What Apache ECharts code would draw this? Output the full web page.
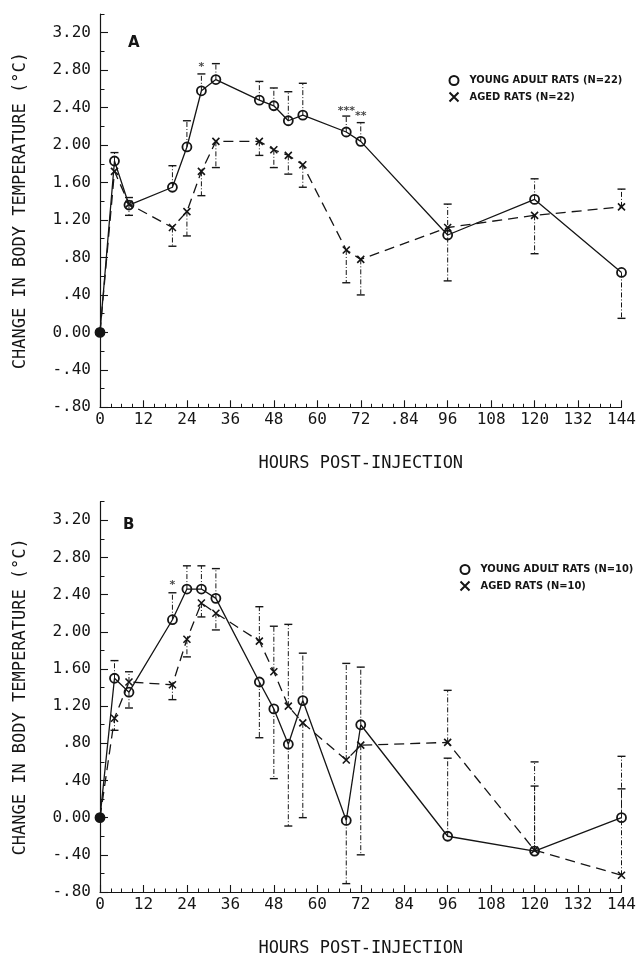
<!DOCTYPE html>
<html><head><meta charset="utf-8">
<script src="https://cdn.jsdelivr.net/npm/echarts@6/dist/echarts.min.js"></script>
<style>html,body{margin:0;padding:0;background:#fff}#c{width:639px;height:958px}</style>
</head><body><div id="c"></div>
<script>
// ---- data ----
const hours = [0,4,8,20,24,28,32,44,48,52,56,68,72,96,120,144];

const youngA    = [0,1.83,1.36,1.55,1.98,2.58,2.70,2.48,2.42,2.26,2.32,2.14,2.04,1.04,1.42,0.64];
const youngErrA = [null,1.92,1.44,1.78,2.26,2.76,2.87,2.68,2.61,2.57,2.66,2.31,2.24,1.37,1.64,0.15];
const agedA     = [0,1.72,1.37,1.12,1.29,1.72,2.04,2.04,1.95,1.89,1.79,0.88,0.78,1.12,1.25,1.34];
const agedErrA  = [null,null,1.25,0.92,1.03,1.46,1.76,1.89,1.76,1.69,1.55,0.53,0.40,0.55,0.84,1.53];

const youngB    = [0,1.50,1.35,2.13,2.46,2.46,2.36,1.46,1.17,0.79,1.26,-0.03,1.00,-0.20,-0.36,0.00];
const youngErrB = [null,1.69,1.18,2.42,2.71,2.71,2.68,0.86,0.42,-0.09,1.77,-0.71,1.62,0.64,0.60,0.66];
const agedB     = [0,1.07,1.46,1.43,1.92,2.31,2.20,1.90,1.57,1.20,1.02,0.62,0.78,0.81,-0.35,-0.62];
const agedErrB  = [null,0.94,1.57,1.27,1.73,2.16,2.02,2.27,2.06,2.08,0.00,1.66,-0.40,1.37,0.34,0.31];

const sigHoursA = [28, 68, 72];
const sigValsA  = [2.83, 2.36, 2.31];
const sigTextA  = ['*', '***', '**'];
const sigHoursB = [20];
const sigValsB  = [2.50];
const sigTextB  = ['*'];

const yTickValues = [-0.8,-0.4,0,0.4,0.8,1.2,1.6,2.0,2.4,2.8,3.2];
const yTickLabels = ['-.80','-.40','0.00','.40','.80','1.20','1.60','2.00','2.40','2.80','3.20'];
const xTickLabelsA = ['0','12','24','36','48','60','72','.84','96','108','120','132','144'];
const xTickLabelsB = ['0','12','24','36','48','60','72','84','96','108','120','132','144'];

const legendA = ['YOUNG ADULT RATS (N=22)', 'AGED RATS (N=22)'];
const legendB = ['YOUNG ADULT RATS (N=10)', 'AGED RATS (N=10)'];
const yName = 'CHANGE IN BODY TEMPERATURE (°C)';
const xName = 'HOURS POST-INJECTION';

// ---- styling ----
const INK = '#151515';
const MONO = "'DejaVu Sans Mono', monospace";
const XSYM = 'path://M0,0L10,10M10,0L0,10';

function yLabel(v){
  const i = yTickValues.findIndex(t => Math.abs(t - v) < 1e-6);
  return i < 0 ? '' : yTickLabels[i];
}

function makeAxes(gi, xLabels){
  const xs = [
    { gridIndex: gi, type:'value', position:'bottom', min:0, max:144, interval:3,
      axisLine:{show:true, onZero:false, lineStyle:{color:INK, width:1.2}},
      axisTick:{show:true, inside:true, length:3.5, lineStyle:{color:INK, width:1}},
      axisLabel:{show:false}, splitLine:{show:false},
      name:xName, nameLocation:'middle', nameGap:48,
      nameTextStyle:{fontFamily:MONO, fontSize:17, color:INK} },
    { gridIndex: gi, type:'value', position:'bottom', offset:0, min:0, max:144, interval:12,
      axisLine:{show:false, onZero:false}, splitLine:{show:false},
      axisTick:{show:true, inside:true, length:7, lineStyle:{color:INK, width:1.1}},
      axisLabel:{show:true, margin:5, fontFamily:MONO, fontSize:16, color:INK,
        formatter: v => xLabels[Math.round(v/12)] } }
  ];
  const ys = [
    { gridIndex: gi, type:'value', position:'left', min:-0.8, max:3.4, interval:0.2,
      axisLine:{show:true, onZero:false, lineStyle:{color:INK, width:1.2}},
      axisTick:{show:true, inside:true, length:4.5, lineStyle:{color:INK, width:1}},
      axisLabel:{show:false}, splitLine:{show:false},
      name:yName, nameLocation:'middle', nameGap:71,
      nameTextStyle:{fontFamily:MONO, fontSize:17, color:INK} },
    { gridIndex: gi, type:'value', position:'left', offset:0, min:-0.8, max:3.4, interval:0.4,
      axisLine:{show:false, onZero:false}, splitLine:{show:false},
      axisTick:{show:true, inside:true, length:8, customValues: yTickValues, lineStyle:{color:INK, width:1.1}},
      axisLabel:{show:true, margin:9, fontFamily:MONO, fontSize:16, color:INK,
        customValues: yTickValues, formatter: yLabel } }
  ];
  return {xs, ys};
}

const axA = makeAxes(0, xTickLabelsA);
const axB = makeAxes(1, xTickLabelsB);

function errRender(params, api){
  const x = api.value(0), v = api.value(1), e = api.value(2);
  const p0 = api.coord([x, v]);
  const p1 = api.coord([x, e]);
  return { type:'group', children:[
    { type:'line', shape:{x1:p0[0], y1:p0[1], x2:p1[0], y2:p1[1]},
      style:{stroke:INK, lineWidth:1, lineDash:[5,2,1,2]} },
    { type:'line', shape:{x1:p1[0]-4, y1:p1[1], x2:p1[0]+4, y2:p1[1]},
      style:{stroke:INK, lineWidth:1.4} }
  ]};
}
function errData(vals, errs){
  const out = [];
  hours.forEach((h, i) => { if (errs[i] !== null) out.push([h, vals[i], errs[i]]); });
  return out;
}
function pts(vals, firstFilled){
  return hours.map((h, i) => (i === 0 && firstFilled)
    ? {value:[h, vals[i]], symbol:'circle', itemStyle:{color:INK}} : [h, vals[i]]);
}
function youngSeries(name, vals, xi, yi){
  return { name, type:'line', xAxisIndex:xi, yAxisIndex:yi, data:pts(vals, true),
    symbol:'circle', symbolSize:9, z:4,
    lineStyle:{color:INK, width:1.3},
    itemStyle:{color:'rgba(0,0,0,0)', borderColor:INK, borderWidth:1.8},
    emphasis:{disabled:true}, animation:false };
}
function agedSeries(name, vals, xi, yi){
  return { name, type:'line', xAxisIndex:xi, yAxisIndex:yi, data:pts(vals, false),
    symbol:XSYM, symbolSize:7, z:4,
    lineStyle:{color:INK, width:1.3, type:[10,6]},
    itemStyle:{color:'none', borderColor:INK, borderWidth:1.6},
    emphasis:{disabled:true}, animation:false };
}
function errSeries(vals, errs, xi, yi){
  return { type:'custom', xAxisIndex:xi, yAxisIndex:yi, renderItem:errRender,
    data:errData(vals, errs), encode:{x:0, y:1}, z:3, silent:true, animation:false };
}
function sigSeries(hs, vs, ts, xi, yi){
  return { type:'scatter', xAxisIndex:xi, yAxisIndex:yi, symbolSize:0, silent:true,
    data: hs.map((h, i) => ({value:[h, vs[i]], name:ts[i]})),
    label:{show:true, position:'inside', formatter: p => p.name,
      fontFamily:"'DejaVu Sans'", fontWeight:'bold', fontSize:11, color:INK},
    animation:false };
}

const chart = echarts.init(document.getElementById('c'), null, {renderer:'canvas'});
chart.setOption({
  backgroundColor:'#fff',
  animation:false,
  grid:[
    {left:100, top:14, width:521.5, height:393.3},
    {left:100, top:501.7, width:521.5, height:391.6}
  ],
  xAxis: axA.xs.concat(axB.xs),
  yAxis: axA.ys.concat(axB.ys),
  legend:[
    { data:[{name:legendA[0], icon:'circle'}, {name:legendA[1], icon:XSYM}],
      orient:'vertical', left:442, top:70, itemWidth:9, itemHeight:9, itemGap:4,
      selectedMode:false,
      textStyle:{fontFamily:"'DejaVu Sans Condensed'", fontWeight:'bold', fontSize:11, color:INK, padding:[0,0,0,6]} },
    { data:[{name:legendB[0], icon:'circle'}, {name:legendB[1], icon:XSYM}],
      orient:'vertical', left:453, top:559, itemWidth:9, itemHeight:9, itemGap:4,
      selectedMode:false,
      textStyle:{fontFamily:"'DejaVu Sans Condensed'", fontWeight:'bold', fontSize:11, color:INK, padding:[0,0,0,6]} }
  ],
  graphic:[
    {type:'text', left:128, top:36, style:{text:'A', font:"bold 15px 'DejaVu Sans'", fill:INK}},
    {type:'text', left:123, top:518, style:{text:'B', font:"bold 15px 'DejaVu Sans'", fill:INK}}
  ],
  series:[
    errSeries(youngA, youngErrA, 0, 0),
    errSeries(agedA, agedErrA, 0, 0),
    youngSeries(legendA[0], youngA, 0, 0),
    agedSeries(legendA[1], agedA, 0, 0),
    sigSeries(sigHoursA, sigValsA, sigTextA, 0, 0),
    errSeries(youngB, youngErrB, 2, 2),
    errSeries(agedB, agedErrB, 2, 2),
    youngSeries(legendB[0], youngB, 2, 2),
    agedSeries(legendB[1], agedB, 2, 2),
    sigSeries(sigHoursB, sigValsB, sigTextB, 2, 2)
  ]
});
</script>
</body></html>
